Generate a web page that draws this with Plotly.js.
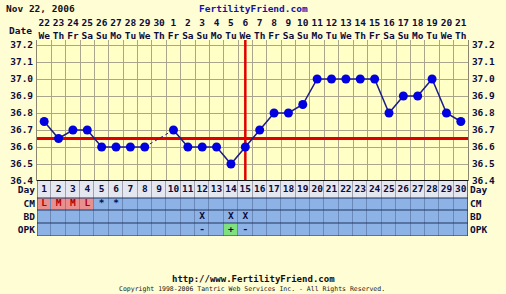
<!DOCTYPE html>
<html>
<head>
<meta charset="utf-8">
<script src="https://cdn.plot.ly/plotly-3.0.1.min.js"></script>
<style>html,body{margin:0;padding:0;background:#fffdd3;}#chart{width:506px;height:294px;}</style>
</head>
<body>
<div id="chart"></div>
<script>
// ---- data ----
const days = [1,2,3,4,5,6,7,8,9,10,11,12,13,14,15,16,17,18,19,20,21,22,23,24,25,26,27,28,29,30];
const dates = ['22','23','24','25','26','27','28','29','30','1','2','3','4','5','6','7','8','9','10','11','12','13','14','15','16','17','18','19','20','21'];
const weekdays = ['We','Th','Fr','Sa','Su','Mo','Tu','We','Th','Fr','Sa','Su','Mo','Tu','We','Th','Fr','Sa','Su','Mo','Tu','We','Th','Fr','Sa','Su','Mo','Tu','We','Th'];
const temps = [36.75,36.65,36.7,36.7,36.6,36.6,36.6,36.6,null,36.7,36.6,36.6,36.6,36.5,36.6,36.7,36.8,36.8,36.85,37.0,37.0,37.0,37.0,37.0,36.8,36.9,36.9,37.0,36.8,36.75];
const cm  = ['L','M','M','L','*','*','','','','','','','','','','','','','','','','','','','','','','','',''];
const bd  = ['','','','','','','','','','','','X','','X','X','','','','','','','','','','','','','','',''];
const opk = ['','','','','','','','','','','','-','','+','-','','','','','','','','','','','','','','',''];
const tempTicks = [36.4,36.5,36.6,36.7,36.8,36.9,37.0,37.1,37.2];
const rowLabels = ['Day','CM','BD','OPK'];
const coverline = 36.65;
const ovulationDay = 15;
const chartDate = 'Nov 22, 2006';

// ---- geometry helpers ----
const W = 506, H = 294;
const px = v => v / W;
const py = v => 1 - v / H;
const xDom = [px(37), px(468)];
const tempDom = [py(181), py(40)];
const tabDom = [py(236), py(181)];
const xr = [days[0] - 0.5, days[days.length - 1] + 0.5];
const yr = [36.4, 37.2 + 5 / 170];
// table row edges in pixels from the table top (Day, CM, BD, OPK)
const rowEdges = [0, 17, 29, 42, 55];
const rowMid = rowEdges.slice(0, 4).map((e, i) => (e + rowEdges[i + 1]) / 2);

const FONT = 'DejaVu Sans Mono, monospace';
const NAVY = '#0c0c3c';
const tickFont = {family: FONT, size: 9.5, color: NAVY, weight: 'bold'};

// cell boundaries for vertical grid
const bounds = [xr[0]].concat(days.map(d => d + 0.5));

// dashed connectors across missing temps
const gx = [], gy = [];
for (let i = 1; i < temps.length - 1; i++) {
  if (temps[i] === null && temps[i - 1] !== null) {
    let j = i + 1;
    while (j < temps.length && temps[j] === null) j++;
    if (j < temps.length) { gx.push(days[i - 1], days[j], null); gy.push(temps[i - 1], temps[j], null); }
  }
}

// table heatmap (0 day row, 1 blue, 2 pink, 3 green)
const zDay = days.map(() => 0);
const zCm = cm.map(c => (c === 'L' || c === 'M') ? 2 : 1);
const zBd = bd.map(() => 1);
const zOpk = opk.map(o => o === '+' ? 3 : 1);

// table text
const tx = [], ty = [], tt = [], tc = [];
days.forEach((d, i) => {
  tx.push(d); ty.push(rowMid[0]); tt.push(String(d)); tc.push(NAVY);
  if (cm[i]) { tx.push(d); ty.push(rowMid[1]); tt.push(cm[i]); tc.push((cm[i] === 'L' || cm[i] === 'M') ? '#b00000' : NAVY); }
  if (bd[i]) { tx.push(d); ty.push(rowMid[2]); tt.push(bd[i]); tc.push(NAVY); }
  if (opk[i]) { tx.push(d); ty.push(rowMid[3]); tt.push(opk[i]); tc.push(NAVY); }
});

const RED = '#e00000';
const traces = [
  {type: 'heatmap', x: days, y: rowEdges, z: [zDay, zCm, zBd, zOpk], xaxis: 'x2', yaxis: 'y2',
   zmin: 0, zmax: 3, showscale: false, xgap: 1, ygap: 0, hoverinfo: 'skip',
   colorscale: [[0, '#e4e6f0'], [1/3, '#8cb2e6'], [2/3, '#e89090'], [1, '#7ee07e']]},
  {type: 'scatter', mode: 'text', x: tx, y: ty, text: tt, xaxis: 'x2', yaxis: 'y2',
   textfont: {family: FONT, size: 9.5, color: tc, weight: 'bold'}, hoverinfo: 'skip', cliponaxis: false},
  // coverline and ovulation line
  {type: 'scatter', mode: 'lines', x: [xr[0], xr[1]], y: [coverline, coverline], xaxis: 'x', yaxis: 'y',
   line: {color: RED, width: 3}, hoverinfo: 'skip'},
  {type: 'scatter', mode: 'lines', x: [ovulationDay, ovulationDay], y: [yr[0], yr[1]], xaxis: 'x', yaxis: 'y',
   line: {color: RED, width: 2.5}, hoverinfo: 'skip'},
  {type: 'scatter', mode: 'lines', x: gx, y: gy, xaxis: 'x', yaxis: 'y',
   line: {color: '#1c1c80', width: 1, dash: '3px,3px'}, hoverinfo: 'skip'},
  {type: 'scatter', mode: 'lines+markers', x: days, y: temps, xaxis: 'x', yaxis: 'y', connectgaps: false,
   line: {color: '#1c1c88', width: 1.5}, marker: {color: '#0000e0', size: 9}},
  // carriers for overlay axes
  {type: 'scatter', mode: 'markers', x: days, y: temps, xaxis: 'x3', yaxis: 'y3', marker: {opacity: 0}, hoverinfo: 'skip'},
  {type: 'scatter', mode: 'markers', x: days, y: temps, xaxis: 'x4', yaxis: 'y', marker: {opacity: 0}, hoverinfo: 'skip'},
  {type: 'scatter', mode: 'markers', x: days, y: days.map(() => rowMid[0]), xaxis: 'x2', yaxis: 'y4', marker: {opacity: 0}, hoverinfo: 'skip'}
];

const GRID = '#aaa68e';
const tabRange = [rowEdges[4], rowEdges[0]];
const layout = {
  width: W, height: H,
  margin: {l: 0, r: 0, t: 0, b: 0},
  paper_bgcolor: '#fffdd3',
  plot_bgcolor: '#ffffc6',
  showlegend: false,
  xaxis: {domain: xDom, range: xr, anchor: 'y', tickvals: bounds, showticklabels: false, ticks: '',
          showgrid: true, gridcolor: GRID, gridwidth: 1, zeroline: false, fixedrange: true},
  xaxis2: {domain: xDom, range: xr, anchor: 'y2', showticklabels: false, showgrid: false, zeroline: false, ticks: ''},
  xaxis3: {overlaying: 'x', side: 'top', anchor: 'free', position: py(40.5), range: xr, tickvals: days, ticktext: weekdays,
           ticks: '', showgrid: false, zeroline: false, tickfont: tickFont, ticklabelstandoff: 0},
  xaxis4: {overlaying: 'x', side: 'top', anchor: 'free', position: py(28), range: xr, tickvals: days, ticktext: dates,
           ticks: '', showgrid: false, zeroline: false, tickfont: tickFont, ticklabelstandoff: 0},
  yaxis: {domain: tempDom, range: yr, tickvals: tempTicks, ticktext: tempTicks.map(v => v.toFixed(1)),
          ticks: '', showgrid: true, gridcolor: GRID, zeroline: false, tickfont: tickFont, side: 'left',
          showline: true, linecolor: '#8a8670', ticklabelstandoff: 1},
  yaxis3: {overlaying: 'y', side: 'right', anchor: 'x', range: yr, tickvals: tempTicks, ticktext: tempTicks.map(v => v.toFixed(1)),
           ticks: '', showgrid: false, zeroline: false, tickfont: tickFont, showline: true, linecolor: '#8a8670', ticklabelstandoff: 1},
  yaxis2: {domain: tabDom, range: tabRange, anchor: 'x2', tickvals: rowMid, ticktext: rowLabels,
           ticks: '', showgrid: false, zeroline: false, tickfont: tickFont, ticklabelstandoff: 1},
  yaxis4: {overlaying: 'y2', side: 'right', anchor: 'x2', range: tabRange, tickvals: rowMid, ticktext: rowLabels,
           ticks: '', showgrid: false, zeroline: false, tickfont: tickFont, ticklabelstandoff: 1},
  shapes: [
    {type: 'rect', xref: 'x2', yref: 'y2', x0: xr[0], x1: xr[1], y0: rowEdges[0], y1: rowEdges[4], fillcolor: '#6a88b8', line: {width: 0}, layer: 'below'},
    {type: 'rect', xref: 'x2', yref: 'y2', x0: xr[0], x1: xr[1], y0: rowEdges[0], y1: rowEdges[1], fillcolor: '#a2a2ae', line: {width: 0}, layer: 'below'}
  ].concat(rowEdges.slice(1).map(e => (
    {type: 'line', xref: 'x2', yref: 'y2', x0: xr[0], x1: xr[1], y0: e, y1: e, line: {color: '#22345e', width: 1.2}}
  ))).concat([
    {type: 'line', xref: 'x2', yref: 'y2', x0: xr[0], x1: xr[0], y0: rowEdges[0], y1: rowEdges[4], line: {color: '#22345e', width: 1}},
    {type: 'line', xref: 'x2', yref: 'y2', x0: xr[1], x1: xr[1], y0: rowEdges[0], y1: rowEdges[4], line: {color: '#22345e', width: 1}},
    {type: 'line', xref: 'x', yref: 'y', x0: xr[0], x1: xr[1], y0: yr[0], y1: yr[0], line: {color: '#101010', width: 2}}
  ]),
  annotations: [
    {xref: 'paper', yref: 'paper', x: px(4), y: py(8), xanchor: 'left', yanchor: 'middle', showarrow: false,
     text: chartDate, font: {family: FONT, size: 9.5, color: '#101020', weight: 'bold'}},
    {xref: 'paper', yref: 'paper', x: px(253), y: py(8), xanchor: 'center', yanchor: 'middle', showarrow: false,
     text: 'FertilityFriend.com', font: {family: FONT, size: 9.5, color: '#1414a8', weight: 'bold'}},
    {xref: 'paper', yref: 'paper', x: px(34), y: py(30), xanchor: 'right', yanchor: 'middle', showarrow: false,
     text: 'Date', font: tickFont},
    {xref: 'paper', yref: 'paper', x: px(253), y: py(279), xanchor: 'center', yanchor: 'middle', showarrow: false,
     text: 'http://www.FertilityFriend.com', font: {family: FONT, size: 9, color: '#101010', weight: 'bold'}},
    {xref: 'paper', yref: 'paper', x: px(252), y: py(289), xanchor: 'center', yanchor: 'middle', showarrow: false,
     text: 'Copyright 1998-2006 Tantric Web Services Inc. - All Rights Reserved.', font: {family: FONT, size: 6.5, color: '#202020'}}
  ]
};

Plotly.newPlot('chart', traces, layout, {displayModeBar: false, staticPlot: true});
</script>
</body>
</html>
